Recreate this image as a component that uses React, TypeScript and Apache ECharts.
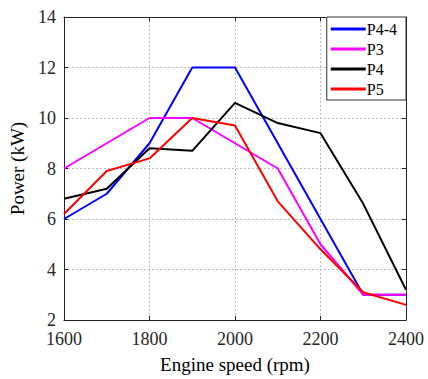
import React, { useEffect, useRef } from "react";
import * as echarts from "echarts";

const speeds = [1600, 1700, 1800, 1900, 2000, 2100, 2200, 2300, 2400];
const p44 = [6, 7, 9, 12, 12, 9, 6, 3, 3];
const p3 = [8, 9, 10, 10, 9, 8, 5, 3, 3];
const p4 = [6.8, 7.2, 8.8, 8.7, 10.6, 9.8, 9.4, 6.6, 3.2];
const p5 = [6.2, 7.9, 8.4, 10, 9.7, 6.7, 4.8, 3.1, 2.6];
const seriesNames = ["P4-4", "P3", "P4", "P5"];
const seriesColors = ["#0000ff", "#ff00ff", "#000000", "#ff0000"];
const seriesValues = [p44, p3, p4, p5];

const FONT = "Liberation Serif";

export default function App() {
  const ref = useRef<HTMLDivElement>(null);
  useEffect(() => {
    if (!ref.current) return;
    const chart = echarts.init(ref.current, null, { renderer: "svg" });
    const tickColor = "#262626";
    chart.setOption({
      animation: false,
      backgroundColor: "#ffffff",
      textStyle: { fontFamily: FONT },
      grid: { left: 64, right: 22, top: 17, bottom: 55, containLabel: false },
      legend: {
        data: seriesNames,
        orient: "vertical",
        right: 22,
        top: 17,
        backgroundColor: "#ffffff",
        borderColor: "#333",
        borderWidth: 1,
        borderRadius: 0,
        padding: [4, 9, 3, 4],
        itemGap: 4,
        itemWidth: 35,
        itemHeight: 3,
        icon: "rect",
        textStyle: { fontFamily: FONT, fontSize: 16, color: "#000", lineHeight: 16, padding: [0, 0, 0, -4] },
      },
      xAxis: [
        {
          type: "value",
          min: 1600,
          max: 2400,
          interval: 200,
          name: "Engine speed (rpm)",
          nameLocation: "middle",
          nameGap: 35,
          nameTextStyle: { fontFamily: FONT, fontSize: 19, color: "#000" },
          axisLine: { show: true, lineStyle: { color: "#222", width: 1 } },
          axisTick: { show: true, inside: true, length: 4, lineStyle: { color: "#222" } },
          axisLabel: {
            fontFamily: FONT,
            fontSize: 18,
            color: tickColor,
            margin: 10,
            formatter: (v: number) => String(v),
          },
          splitLine: { show: true, lineStyle: { color: "#bdbdbd", type: [2, 2], width: 1 } },
        },
        {
          type: "value",
          position: "top",
          min: 1600,
          max: 2400,
          interval: 200,
          axisLine: { show: true, lineStyle: { color: "#222", width: 1 } },
          axisTick: { show: true, inside: true, length: 4, lineStyle: { color: "#222" } },
          axisLabel: { show: false },
          splitLine: { show: false },
        },
      ],
      yAxis: [
        {
          type: "value",
          min: 2,
          max: 14,
          interval: 2,
          name: "Power (kW)",
          nameLocation: "middle",
          nameGap: 25,
          nameTextStyle: { fontFamily: FONT, fontSize: 19, color: "#000" },
          axisLine: { show: true, lineStyle: { color: "#222", width: 1 } },
          axisTick: { show: true, inside: true, length: 4, lineStyle: { color: "#222" } },
          axisLabel: { fontFamily: FONT, fontSize: 18, color: tickColor, margin: 8 },
          splitLine: { show: true, lineStyle: { color: "#bdbdbd", type: [2, 2], width: 1 } },
        },
        {
          type: "value",
          position: "right",
          min: 2,
          max: 14,
          interval: 2,
          axisLine: { show: true, lineStyle: { color: "#222", width: 1 } },
          axisTick: { show: true, inside: true, length: 4, lineStyle: { color: "#222" } },
          axisLabel: { show: false },
          splitLine: { show: false },
        },
      ],
      series: seriesNames.map((name, i) => ({
        name,
        type: "line",
        data: speeds.map((s, j) => [s, seriesValues[i][j]]),
        showSymbol: false,
        symbol: "none",
        color: seriesColors[i],
        lineStyle: { color: seriesColors[i], width: 2 },
        z: 2 + i,
      })),
    });
    return () => chart.dispose();
  }, []);
  return (
    <div
      ref={ref}
      style={{ position: "absolute", left: 0, top: 0, width: 428, height: 379 }}
    />
  );
}
